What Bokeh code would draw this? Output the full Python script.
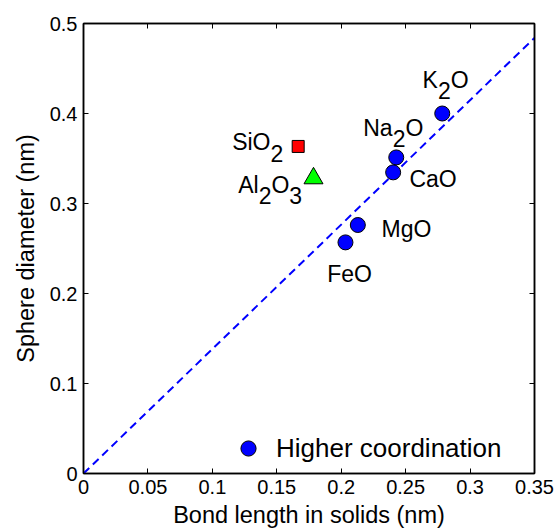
from bokeh.plotting import figure
from bokeh.models import (Range1d, FixedTicker, LinearAxis, CustomJSTickFormatter,
                          ColumnDataSource, Legend, LegendItem)
from bokeh.core.properties import value
from bokeh.embed import file_html
from bokeh.resources import INLINE

# ---- data ----
oxides = ["K_2O", "Na_2O", "CaO", "MgO", "FeO"]
bond_len = [0.2784, 0.2427, 0.2403, 0.2129, 0.2033]
sphere_d = [0.400, 0.3512, 0.3346, 0.2761, 0.2568]

sio2_label = "SiO_2"
sio2_x = [0.1666]
sio2_y = [0.3634]

al2o3_label = "Al_2O_3"
al2o3_x = [0.1785]
al2o3_y = [0.3280]

diag_x = [0.0, 0.35]
diag_y = [0.0, 0.484]

x_ticks = [0, 0.05, 0.1, 0.15, 0.2, 0.25, 0.3, 0.35]
y_ticks = [0, 0.1, 0.2, 0.3, 0.4, 0.5]

legend_text = "Higher coordination"

# ---- label placement (pixel offsets from point: left edge, baseline) ----
label_offsets = {
    "K_2O": (-19.7, -25.7),
    "Na_2O": (-33.0, -21.7),
    "CaO": (16.3, 15.0),
    "MgO": (23.7, 12.4),
    "FeO": (-18.3, 39.3),
    "SiO_2": (-66.0, 3.6),
    "Al_2O_3": (-75.3, 14.2),
}

FONT = "Liberation Sans"
LBL_SIZE = 23
SUB_SHIFT = 11
BASE_FIX = -8
CHAR_W = {"K": .667, "N": .722, "a": .556, "C": .722, "O": .778, "M": .833,
          "g": .556, "F": .611, "e": .556, "S": .667, "i": .222, "A": .667,
          "l": .222, "2": .556, "3": .556}

p = figure(width=555, height=530, output_backend="svg", toolbar_location=None,
           x_range=Range1d(0, 0.35), y_range=Range1d(0, 0.5),
           min_border_left=83, min_border_right=21, min_border_top=23,
           min_border_bottom=57, background_fill_color="white",
           border_fill_color="white")
p.grid.visible = False
p.outline_line_color = "black"
p.outline_line_width = 1.5

fmt = CustomJSTickFormatter(code="return parseFloat(tick.toFixed(4)).toString();")

for ax, ticks in ((p.xaxis[0], x_ticks), (p.yaxis[0], y_ticks)):
    ax.ticker = FixedTicker(ticks=ticks)
    ax.formatter = fmt
    ax.major_tick_in = 5
    ax.major_tick_out = 0
    ax.minor_tick_line_color = None
    ax.axis_line_width = 1.5
    ax.major_tick_line_width = 1
    ax.major_label_text_font = FONT
    ax.major_label_text_font_size = "20px"
    ax.major_label_text_color = "black"
    ax.axis_label_text_font = FONT
    ax.axis_label_text_font_size = "23.5px"
    ax.axis_label_text_font_style = "normal"
    ax.axis_label_text_color = "black"
    ax.major_label_standoff = 6

p.xaxis.axis_label = "Bond length in solids (nm)"
p.yaxis.axis_label = "Sphere diameter (nm)"
p.xaxis.axis_label_standoff = 5
p.yaxis.axis_label_standoff = 8

empty = CustomJSTickFormatter(code="return '';")
for loc, ticks in (("above", x_ticks), ("right", y_ticks)):
    ax = LinearAxis(ticker=FixedTicker(ticks=ticks), formatter=empty,
                    major_tick_in=5, major_tick_out=0, minor_tick_line_color=None,
                    major_label_text_font_size="0px", major_label_standoff=0,
                    axis_line_width=1.5)
    p.add_layout(ax, loc)

# dashed diagonal
p.line(diag_x, diag_y, line_color="#0000ff", line_width=2, line_dash="8 5")

# markers
circ = p.scatter(bond_len, sphere_d, marker="circle", size=15,
                 fill_color="#0000ff", line_color="black", line_width=1)
p.scatter(sio2_x, sio2_y, marker="square", size=12, fill_color="#ff0000",
          line_color="black", line_width=1)
p.scatter(al2o3_x, al2o3_y, marker="triangle", size=19, fill_color="#00ff00",
          line_color="black", line_width=1)

# labels with subscripts
def runs(lbl):
    out = []
    i = 0
    while i < len(lbl):
        if lbl[i] == "_":
            out.append((lbl[i + 1], 1))
            i += 2
        else:
            out.append((lbl[i], 0))
            i += 1
    return out

tx, ty, tt, txo, tyo = [], [], [], [], []
all_labels = list(zip(oxides, bond_len, sphere_d)) + \
    [(sio2_label, sio2_x[0], sio2_y[0]), (al2o3_label, al2o3_x[0], al2o3_y[0])]
for lbl, x, y in all_labels:
    dx, dy = label_offsets[lbl]
    cur = dx
    for ch, sub in runs(lbl):
        tx.append(x); ty.append(y); tt.append(ch)
        txo.append(cur); tyo.append(dy + BASE_FIX + (SUB_SHIFT if sub else 0))
        cur += CHAR_W.get(ch, 0.556) * LBL_SIZE

src = ColumnDataSource(dict(x=tx, y=ty, text=tt, xo=txo, yo=tyo))
p.text(x="x", y="y", text="text", x_offset="xo", y_offset="yo", source=src,
       text_font=value(FONT), text_font_size=f"{LBL_SIZE}px",
       text_align="left", text_baseline="alphabetic", text_color="black")

legend = Legend(items=[LegendItem(label=legend_text, renderers=[circ])],
                location=(146, 6), glyph_width=38, glyph_height=38,
                label_standoff=9, padding=0, margin=0, border_line_color=None,
                background_fill_alpha=0, label_text_font=FONT,
                label_text_font_size="26px", label_text_color="black")
p.add_layout(legend)

open("out.html", "w").write(file_html(p, INLINE))
